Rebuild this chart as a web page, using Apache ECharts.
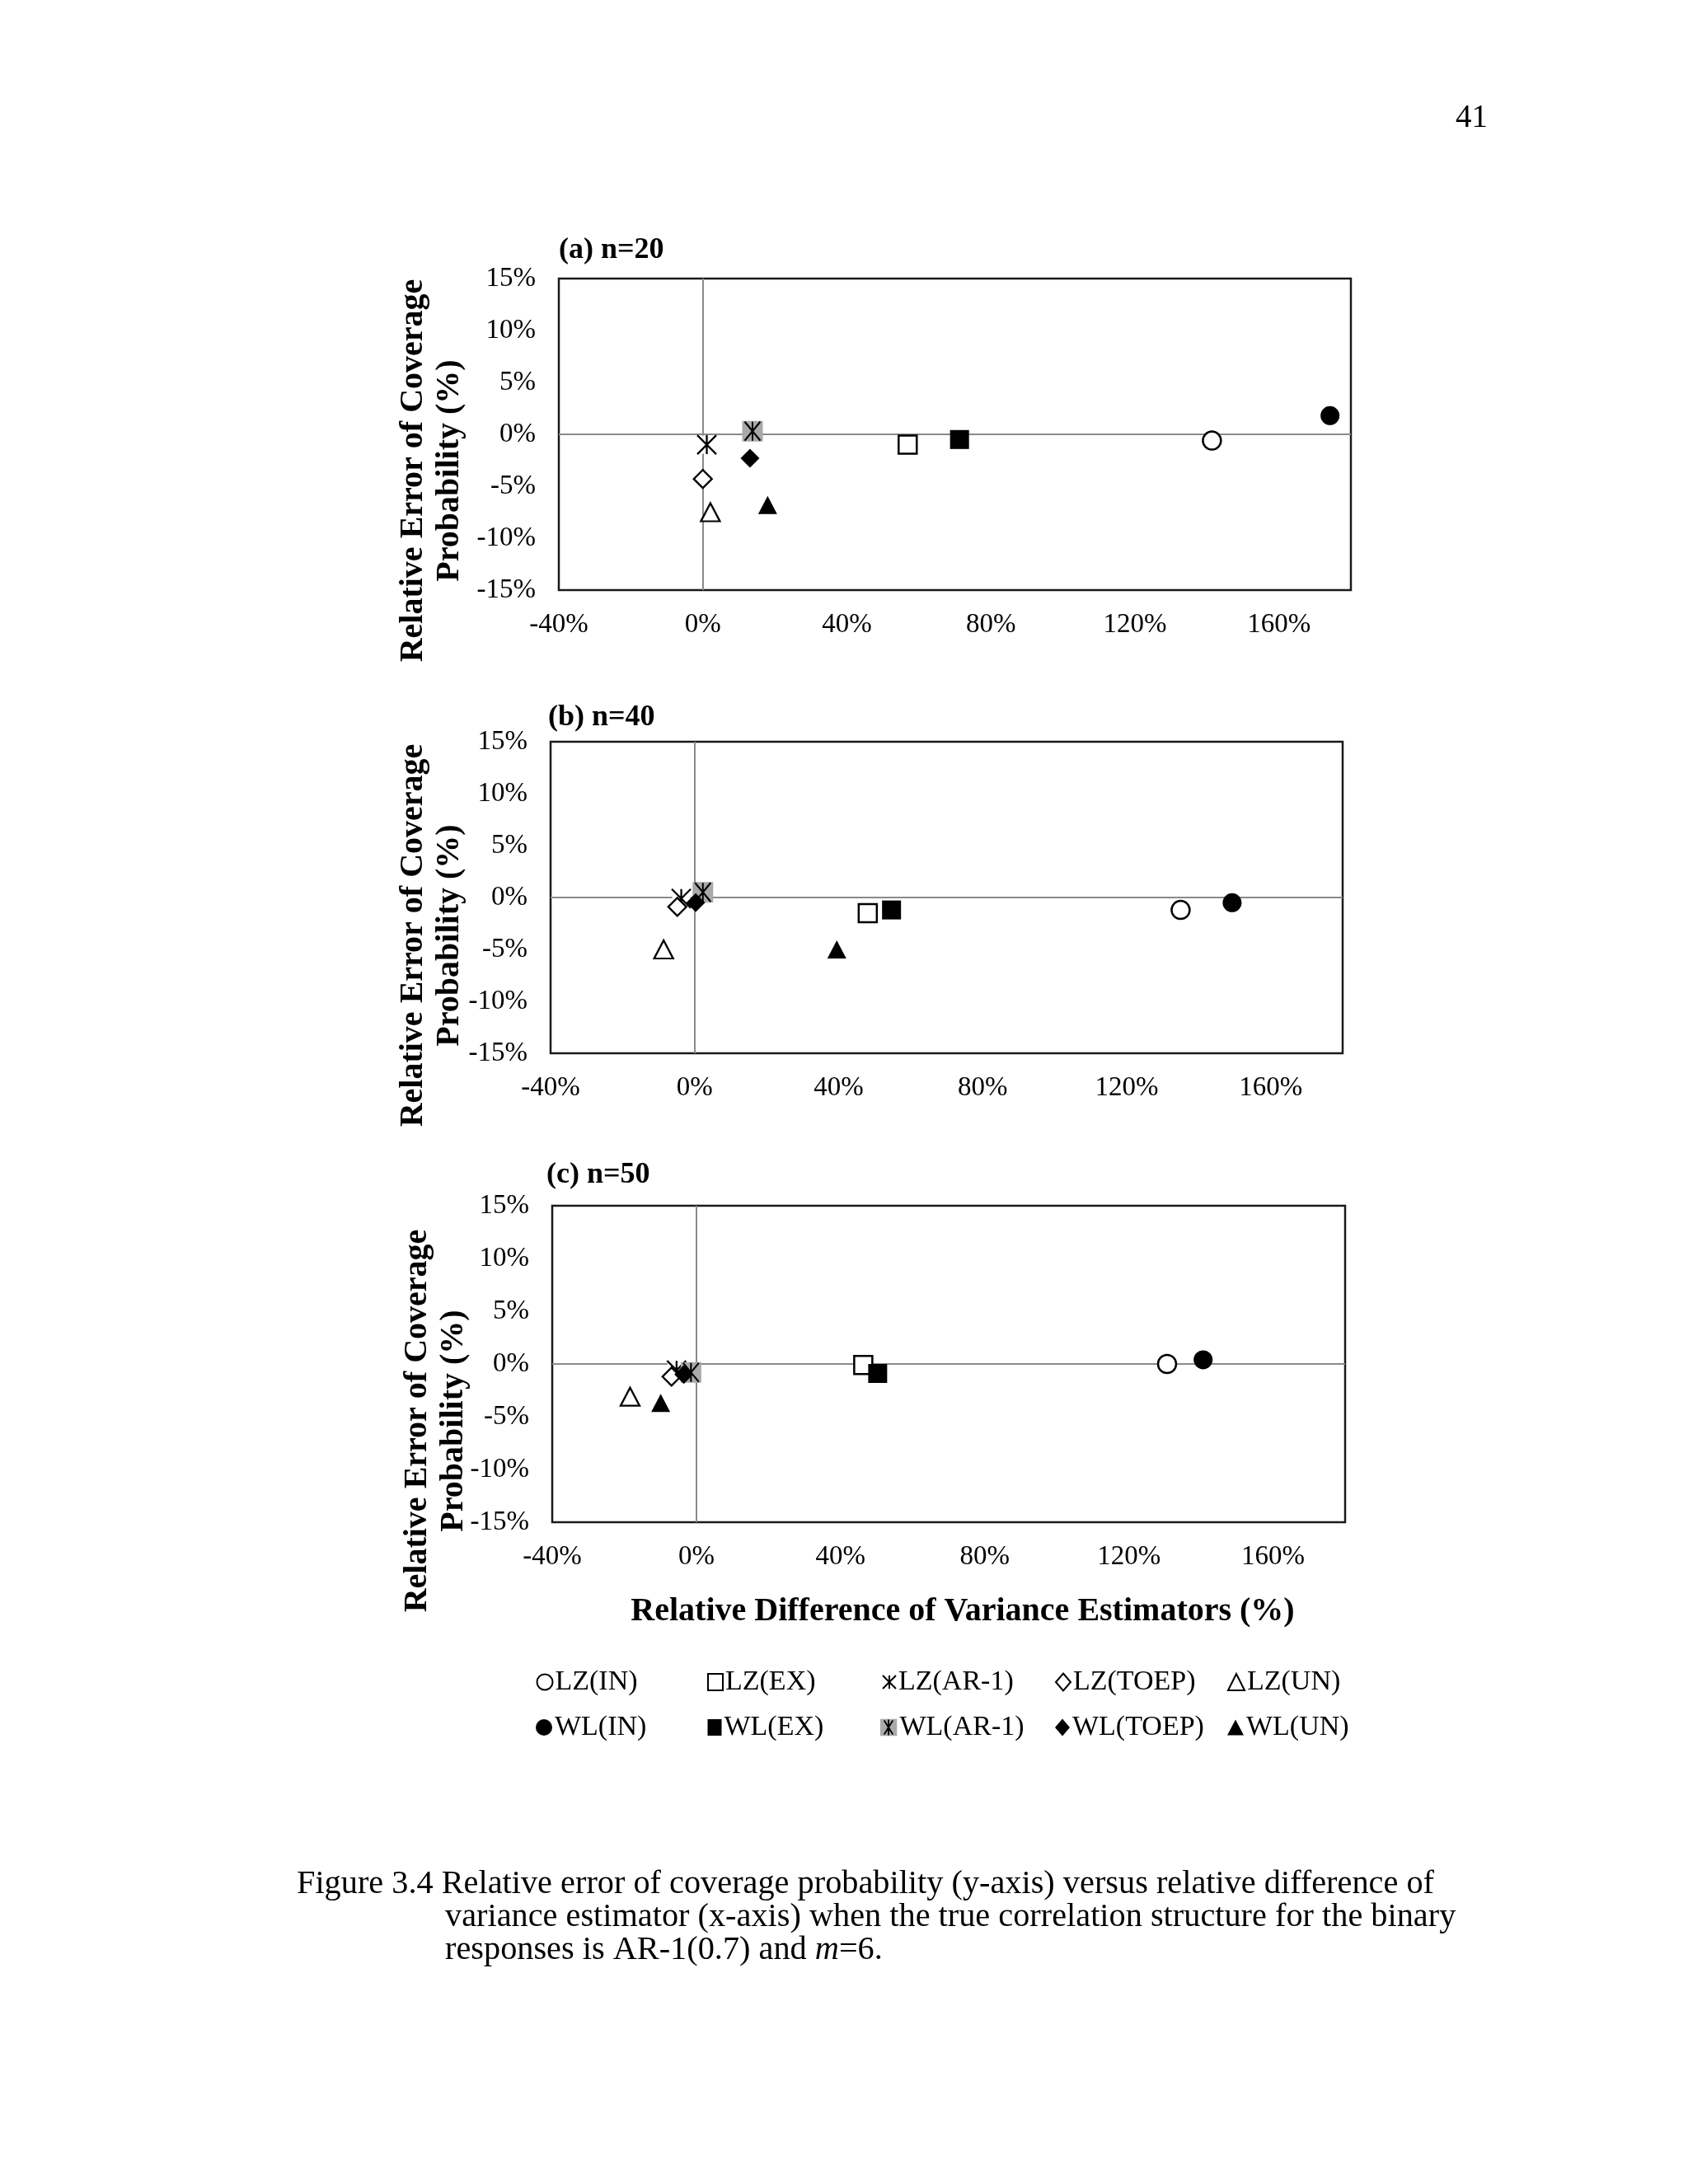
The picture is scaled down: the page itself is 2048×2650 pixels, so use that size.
<!DOCTYPE html>
<html>
<head>
<meta charset="utf-8">
<script src="https://cdn.jsdelivr.net/npm/echarts@6/dist/echarts.min.js"></script>
<style>
  html, body { margin: 0; padding: 0; background: #fff; }
  #chart { width: 2048px; height: 2650px; }
</style>
</head>
<body>
<div id="chart"></div>
<script>
// ---- data ----
const seriesNames = ['LZ(IN)', 'LZ(EX)', 'LZ(AR-1)', 'LZ(TOEP)', 'LZ(UN)',
                     'WL(IN)', 'WL(EX)', 'WL(AR-1)', 'WL(TOEP)', 'WL(UN)'];
const panelTitles = ['(a) n=20', '(b) n=40', '(c) n=50'];
// relative difference of variance estimators (%)
const n20X = [141.4, 56.9, 1.1, 0.0, 2.1, 174.2, 71.3, 13.8, 13.1, 18.0];
const n40X = [135.0, 48.1, -3.7, -4.8, -8.6, 149.3, 54.7, 2.3, 0.3, 39.5];
const n50X = [130.6, 46.3, -5.5, -6.9, -18.4, 140.6, 50.3, -1.5, -3.5, -9.9];
// relative error of coverage probability (%)
const n20Y = [-0.6, -1.0, -1.0, -4.3, -7.5, 1.8, -0.5, 0.3, -2.3, -6.8];
const n40Y = [-1.2, -1.5, -0.1, -0.9, -5.0, -0.5, -1.2, 0.5, -0.5, -5.0];
const n50Y = [0.0, -0.1, -0.6, -1.2, -3.1, 0.4, -0.9, -0.8, -1.0, -3.7];
const xAxisRange = [-40, 180, 40];
const yAxisRange = [-15, 15, 5];

const panelX = [n20X, n40X, n50X];
const panelY = [n20Y, n40Y, n50Y];

// ---- styles ----
const SERIF = '"Liberation Serif", "Times New Roman", serif';
const asterisk = 'path://M0,0L10,10M10,0L0,10M5,0L5,10';
const GRAY = '#a9a9a9';
const styles = {
  'LZ(IN)':   { symbol: 'circle',   size: 22, itemStyle: { color: '#fff', borderColor: '#000', borderWidth: 2.5 } },
  'WL(IN)':   { symbol: 'circle',   size: 23, itemStyle: { color: '#000' } },
  'LZ(EX)':   { symbol: 'rect',     size: 22, itemStyle: { color: '#fff', borderColor: '#000', borderWidth: 2.5 } },
  'WL(EX)':   { symbol: 'rect',     size: 23, itemStyle: { color: '#000' } },
  'LZ(AR-1)': { symbol: asterisk,   size: 23, itemStyle: { color: 'rgba(0,0,0,0)', borderColor: '#000', borderWidth: 2.3 } },
  'WL(AR-1)': { symbol: 'rect',     size: 25, itemStyle: { color: GRAY } },
  'LZ(TOEP)': { symbol: 'diamond',  size: 22, itemStyle: { color: '#fff', borderColor: '#000', borderWidth: 2.3 } },
  'WL(TOEP)': { symbol: 'diamond',  size: 23, itemStyle: { color: '#000' } },
  'LZ(UN)':   { symbol: 'triangle', size: [23, 22], itemStyle: { color: '#fff', borderColor: '#000', borderWidth: 2.3 } },
  'WL(UN)':   { symbol: 'triangle', size: [23, 22], itemStyle: { color: '#000' } }
};

const grids = [
  { left: 678, top: 338, width: 961, height: 378 },
  { left: 668, top: 900, width: 961, height: 378 },
  { left: 670, top: 1463, width: 962, height: 384 }
];

const option = {
  animation: false,
  backgroundColor: '#fff',
  grid: grids.map(g => Object.assign({ show: true, borderColor: '#1a1a1a', borderWidth: 2.5, backgroundColor: 'transparent' }, g)),
  xAxis: grids.map((g, i) => ({
    type: 'value', gridIndex: i, min: xAxisRange[0], max: xAxisRange[1], interval: xAxisRange[2],
    axisLine: { show: false }, axisTick: { show: false }, splitLine: { show: false },
    axisLabel: { color: '#000', fontFamily: SERIF, fontSize: 33, margin: 26,
      formatter: v => (v === xAxisRange[1] ? '' : v + '%') }
  })),
  yAxis: grids.map((g, i) => ({
    type: 'value', gridIndex: i, min: yAxisRange[0], max: yAxisRange[1], interval: yAxisRange[2],
    axisLine: { show: false }, axisTick: { show: false }, splitLine: { show: false },
    axisLabel: { color: '#000', fontFamily: SERIF, fontSize: 33, margin: 28, formatter: v => v + '%' }
  })),
  legend: [],
  series: [],
  graphic: []
};

panelX.forEach((xs, p) => {
  // zero reference lines
  option.series.push({
    type: 'scatter', xAxisIndex: p, yAxisIndex: p, data: [], silent: true, z: 1,
    markLine: {
      silent: true, z: 1, symbol: ['none', 'none'], label: { show: false },
      lineStyle: { color: '#8a8a8a', width: 2, type: 'solid', opacity: 1 },
      emphasis: { disabled: true },
      data: [{ xAxis: 0 }, { yAxis: 0 }]
    }
  });
  seriesNames.forEach((name, i) => {
    const st = styles[name];
    const point = [xs[i], panelY[p][i]];
    if (name === 'LZ(AR-1)') {
      option.series.push({ type: 'scatter', name: '_bg' + p, xAxisIndex: p, yAxisIndex: p, z: 2, silent: true,
        symbol: 'rect', symbolSize: 22, itemStyle: { color: '#fff', opacity: 1 }, data: [point] });
    }
    option.series.push({
      type: 'scatter', name: name, xAxisIndex: p, yAxisIndex: p, z: 3,
      symbol: st.symbol, symbolSize: st.size, itemStyle: Object.assign({ opacity: 1 }, st.itemStyle),
      emphasis: { disabled: true }, data: [point]
    });
    if (name === 'WL(AR-1)') {
      option.series.push({ type: 'scatter', name: '_ov' + p, xAxisIndex: p, yAxisIndex: p, z: 4, silent: true,
        symbol: asterisk, symbolSize: [19, 23],
        itemStyle: { color: 'rgba(0,0,0,0)', borderColor: '#000', borderWidth: 2.2, opacity: 1 }, data: [point] });
    }
  });
});

// ---- legend: one component per entry, laid out in a 5x2 grid ----
const legendCols = [660, 867, 1078, 1289, 1499];
const legendRows = [2042, 2097];
const ar1Icon = 'image://data:image/svg+xml;charset=utf-8,' + encodeURIComponent(
  '<svg xmlns="http://www.w3.org/2000/svg" width="40" height="40" viewBox="0 0 20 20">' +
  '<rect x="0" y="0" width="20" height="20" fill="' + GRAY + '"/>' +
  '<path d="M5,2L15,18M15,2L5,18M10,1L10,19" stroke="#000" stroke-width="1.8" fill="none"/></svg>');
const legendIcons = {
  'LZ(IN)':   { icon: 'circle',   w: 19, h: 21, itemStyle: { color: '#fff', borderColor: '#000', borderWidth: 2 } },
  'LZ(EX)':   { icon: 'rect',     w: 18, h: 20, itemStyle: { color: '#fff', borderColor: '#000', borderWidth: 2 } },
  'LZ(AR-1)': { icon: asterisk,   w: 16, h: 21, itemStyle: { color: 'rgba(0,0,0,0)', borderColor: '#000', borderWidth: 2 } },
  'LZ(TOEP)': { icon: 'diamond',  w: 18, h: 21, itemStyle: { color: '#fff', borderColor: '#000', borderWidth: 2 } },
  'LZ(UN)':   { icon: 'triangle', w: 20, h: 20, itemStyle: { color: '#fff', borderColor: '#000', borderWidth: 2 } },
  'WL(IN)':   { icon: 'circle',   w: 20, h: 21, itemStyle: { color: '#000', borderWidth: 0 } },
  'WL(EX)':   { icon: 'rect',     w: 17, h: 20, itemStyle: { color: '#000', borderWidth: 0 } },
  'WL(AR-1)': { icon: ar1Icon,    w: 21, h: 22, itemStyle: {} },
  'WL(TOEP)': { icon: 'diamond',  w: 18, h: 21, itemStyle: { color: '#000', borderWidth: 0 } },
  'WL(UN)':   { icon: 'triangle', w: 20, h: 19, itemStyle: { color: '#000', borderWidth: 0 } }
};
seriesNames.forEach((name, i) => {
  const li = legendIcons[name];
  const col = i % 5, row = Math.floor(i / 5);
  option.legend.push({
    left: legendCols[col] - li.w / 2, top: legendRows[row] - 18, padding: 0,
    itemWidth: li.w, itemHeight: li.h, selectedMode: false,
    textStyle: { color: '#000', fontFamily: SERIF, fontSize: 34, padding: [0, 0, 0, -2] },
    data: [{ name: name, icon: li.icon, itemStyle: Object.assign({ opacity: 1 }, li.itemStyle) }]
  });
});

// ---- texts ----
const g = option.graphic;
g.push({ type: 'text', right: 2048 - 1805, top: 144 - 20,
  style: { text: '41', font: '39px ' + SERIF, fill: '#000' } });
const titlePos = [[678, 304], [665, 871], [663, 1426]];
panelTitles.forEach((t, i) => {
  g.push({ type: 'text', x: titlePos[i][0], y: titlePos[i][1],
    style: { text: t, font: 'bold 36px ' + SERIF, fill: '#000', textAlign: 'left', textVerticalAlign: 'middle' } });
});
const yTitlePos = [[524, 571], [524, 1135], [529, 1724]];
yTitlePos.forEach(pos => {
  g.push({ type: 'text', x: pos[0], y: pos[1], rotation: Math.PI / 2,
    style: { text: 'Relative Error of Coverage\nProbability (%)', font: 'bold 40px ' + SERIF, lineHeight: 44,
      fill: '#000', textAlign: 'center', textVerticalAlign: 'middle' } });
});
g.push({ type: 'text', x: 1168, y: 1956,
  style: { text: 'Relative Difference of Variance Estimators (%)', font: 'bold 40px ' + SERIF,
    fill: '#000', textAlign: 'center', textVerticalAlign: 'middle' } });
// caption
const capFont = 40.3;
g.push({ type: 'text', x: 360, y: 2286,
  style: { text: 'Figure 3.4 Relative error of coverage probability (y-axis) versus relative difference of',
    font: capFont + 'px ' + SERIF, fill: '#000', textAlign: 'left', textVerticalAlign: 'middle' } });
g.push({ type: 'text', x: 540, y: 2326,
  style: { text: 'variance estimator (x-axis) when the true correlation structure for the binary',
    font: capFont + 'px ' + SERIF, fill: '#000', textAlign: 'left', textVerticalAlign: 'middle' } });
g.push({ type: 'text', x: 540, y: 2366,
  style: { text: '{n|responses is AR-1(0.7) and }{i|m}{n|=6.}', textAlign: 'left', textVerticalAlign: 'middle',
    rich: { n: { fontFamily: SERIF, fontSize: capFont, fill: '#000', color: '#000' },
            i: { fontFamily: SERIF, fontSize: capFont, fontStyle: 'italic', fill: '#000', color: '#000' } } } });

const chart = echarts.init(document.getElementById('chart'));
chart.setOption(option);
</script>
</body>
</html>
